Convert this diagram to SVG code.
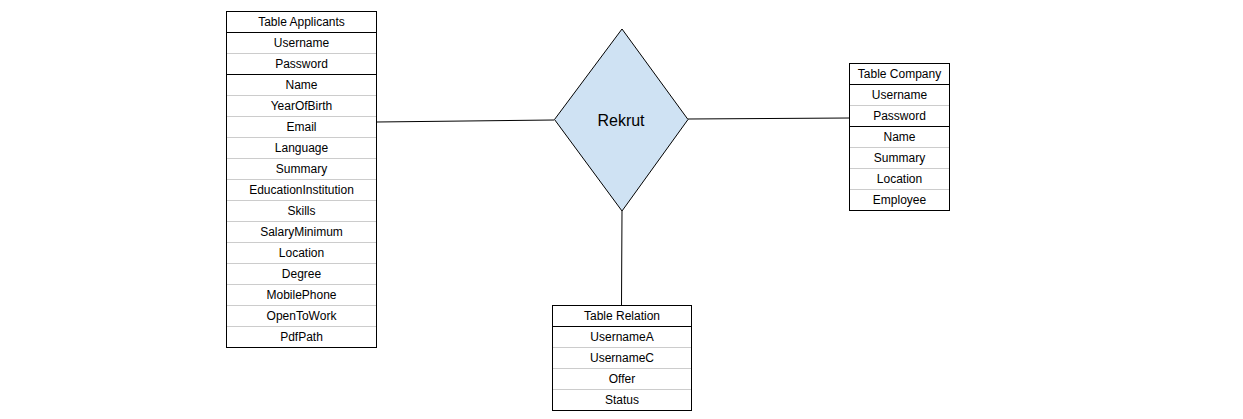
<svg xmlns="http://www.w3.org/2000/svg" width="1243" height="419" viewBox="0 0 1243 419">
<style>
.box{fill:#fff;stroke:#000;stroke-width:1}
.sep{stroke:#ccc;stroke-width:1}
.dark{stroke:#000;stroke-width:1}
text{font-family:"Liberation Sans",Arial,sans-serif;font-size:12px;fill:#000;text-anchor:middle;dominant-baseline:central}
.conn{stroke:#000;stroke-width:1;fill:none}
</style>
<rect width="1243" height="419" fill="#fff"/>
<g id="connectors">
<line class="conn" x1="376.5" y1="122" x2="554" y2="120"/>
<line class="conn" x1="688" y1="119" x2="849.5" y2="118"/>
<line class="conn" x1="622" y1="211" x2="621.5" y2="305.5"/>
</g>
<g id="rekrut">
<polygon points="622,29 688,119.5 622,211 554.5,119.5" fill="#cfe2f3" stroke="#000" stroke-width="1"/>
<text x="621" y="120" style="font-size:16px">Rekrut</text>
</g>
<g id="applicants">
<rect class="box" x="226.5" y="11.5" width="150" height="336"/>
<line class="sep" x1="227" y1="53.5" x2="376" y2="53.5"/>
<line class="sep" x1="227" y1="95.5" x2="376" y2="95.5"/>
<line class="sep" x1="227" y1="116.5" x2="376" y2="116.5"/>
<line class="sep" x1="227" y1="137.5" x2="376" y2="137.5"/>
<line class="sep" x1="227" y1="158.5" x2="376" y2="158.5"/>
<line class="sep" x1="227" y1="179.5" x2="376" y2="179.5"/>
<line class="sep" x1="227" y1="200.5" x2="376" y2="200.5"/>
<line class="sep" x1="227" y1="221.5" x2="376" y2="221.5"/>
<line class="sep" x1="227" y1="242.5" x2="376" y2="242.5"/>
<line class="sep" x1="227" y1="263.5" x2="376" y2="263.5"/>
<line class="sep" x1="227" y1="284.5" x2="376" y2="284.5"/>
<line class="sep" x1="227" y1="305.5" x2="376" y2="305.5"/>
<line class="sep" x1="227" y1="326.5" x2="376" y2="326.5"/>
<line class="dark" x1="227" y1="32.5" x2="376" y2="32.5"/>
<line class="dark" x1="227" y1="74.5" x2="376" y2="74.5"/>
<text x="301.5" y="22">Table Applicants</text>
<text x="301.5" y="43">Username</text>
<text x="301.5" y="64">Password</text>
<text x="301.5" y="85">Name</text>
<text x="301.5" y="106">YearOfBirth</text>
<text x="301.5" y="127">Email</text>
<text x="301.5" y="148">Language</text>
<text x="301.5" y="169">Summary</text>
<text x="301.5" y="190">EducationInstitution</text>
<text x="301.5" y="211">Skills</text>
<text x="301.5" y="232">SalaryMinimum</text>
<text x="301.5" y="253">Location</text>
<text x="301.5" y="274">Degree</text>
<text x="301.5" y="295">MobilePhone</text>
<text x="301.5" y="316">OpenToWork</text>
<text x="301.5" y="337">PdfPath</text>
</g>
<g id="company">
<rect class="box" x="849.5" y="63.5" width="100" height="147"/>
<line class="sep" x1="850" y1="105.5" x2="949" y2="105.5"/>
<line class="sep" x1="850" y1="147.5" x2="949" y2="147.5"/>
<line class="sep" x1="850" y1="168.5" x2="949" y2="168.5"/>
<line class="sep" x1="850" y1="189.5" x2="949" y2="189.5"/>
<line class="dark" x1="850" y1="84.5" x2="949" y2="84.5"/>
<line class="dark" x1="850" y1="126.5" x2="949" y2="126.5"/>
<text x="899.5" y="74">Table Company</text>
<text x="899.5" y="95">Username</text>
<text x="899.5" y="116">Password</text>
<text x="899.5" y="137">Name</text>
<text x="899.5" y="158">Summary</text>
<text x="899.5" y="179">Location</text>
<text x="899.5" y="200">Employee</text>
</g>
<g id="relation">
<rect class="box" x="552.5" y="305.5" width="139" height="105"/>
<line class="sep" x1="553" y1="347.5" x2="691" y2="347.5"/>
<line class="sep" x1="553" y1="368.5" x2="691" y2="368.5"/>
<line class="sep" x1="553" y1="389.5" x2="691" y2="389.5"/>
<line class="dark" x1="553" y1="326.5" x2="691" y2="326.5"/>
<text x="622" y="316">Table Relation</text>
<text x="622" y="337">UsernameA</text>
<text x="622" y="358">UsernameC</text>
<text x="622" y="379">Offer</text>
<text x="622" y="400">Status</text>
</g>
</svg>
